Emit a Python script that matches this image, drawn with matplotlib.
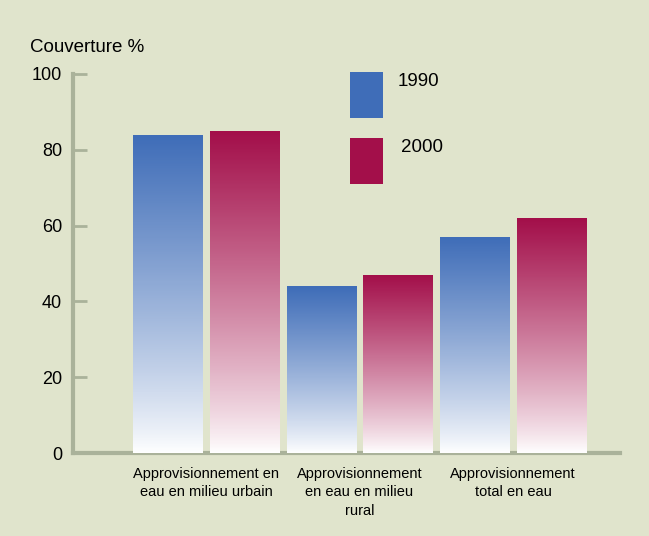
import numpy as np
import matplotlib.pyplot as plt
from matplotlib.colors import LinearSegmentedColormap
from matplotlib.patches import Rectangle

plt.rcParams['font.family'] = ['Liberation Sans', 'DejaVu Sans']

# data
categories = ["Approvisionnement en\neau en milieu urbain",
              "Approvisionnement\nen eau en milieu\nrural",
              "Approvisionnement\ntotal en eau"]
years = ["1990", "2000"]
cov_1990 = [84, 44, 57]
cov_2000 = [85, 47, 62]
yticks = [0, 20, 40, 60, 80, 100]

bg = '#e0e4cc'
blue_top = '#3f6db8'
red_top = '#a30f4a'

fig = plt.figure(figsize=(6.49, 5.36), dpi=100, facecolor=bg)
ax = fig.add_axes([73/649, 83/536, 547/649, 379/536])
ax.set_facecolor(bg)

x = np.arange(len(categories))
width = 0.45
offset = 0.25

def gradient_bar(xc, h, top_color):
    cmap = LinearSegmentedColormap.from_list('g', ['#ffffff', top_color])
    grad = np.linspace(0, 1, 256).reshape(-1, 1) ** 0.85
    left = xc - width / 2
    im = ax.imshow(grad, cmap=cmap, aspect='auto', origin='lower',
                   extent=[left, left + width, 0, h], zorder=2)
    rect = Rectangle((left, 0), width, h, transform=ax.transData)
    im.set_clip_path(rect)

for i in range(len(categories)):
    gradient_bar(x[i] - offset, cov_1990[i], blue_top)
    gradient_bar(x[i] + offset, cov_2000[i], red_top)

ax.set_xlim(-0.866, 2.697)
ax.set_ylim(0, 100)

for side in ['top', 'right']:
    ax.spines[side].set_visible(False)
for side in ['left', 'bottom']:
    ax.spines[side].set_color('#aab29a')
    ax.spines[side].set_linewidth(3)
    ax.spines[side].set_zorder(1)

ax.set_yticks(yticks)
ax.tick_params(axis='y', direction='in', length=10, width=2, color='#aab29a',
               labelsize=13, pad=8)
ax.set_xticks(x)
ax.set_xticklabels(categories, fontsize=10.5, linespacing=1.4)
ax.tick_params(axis='x', length=0, pad=10)

fig.text(30/649, 1 - 47/536, "Couverture %", fontsize=13.5, ha='left', va='center')

# legend squares
for j, (c, lab) in enumerate(zip([blue_top, red_top], years)):
    y0 = 1 - (118 + j * 66) / 536
    fig.patches.append(Rectangle((350/649, y0), 33/649, 46/536, transform=fig.transFigure,
                                 facecolor=c, edgecolor='none'))
    fig.text((398 + 3 * j)/649, 1 - (81 + j * 67)/536, lab, fontsize=13.5, ha='left', va='center')

fig.savefig('out.png', dpi=100, facecolor=bg)
